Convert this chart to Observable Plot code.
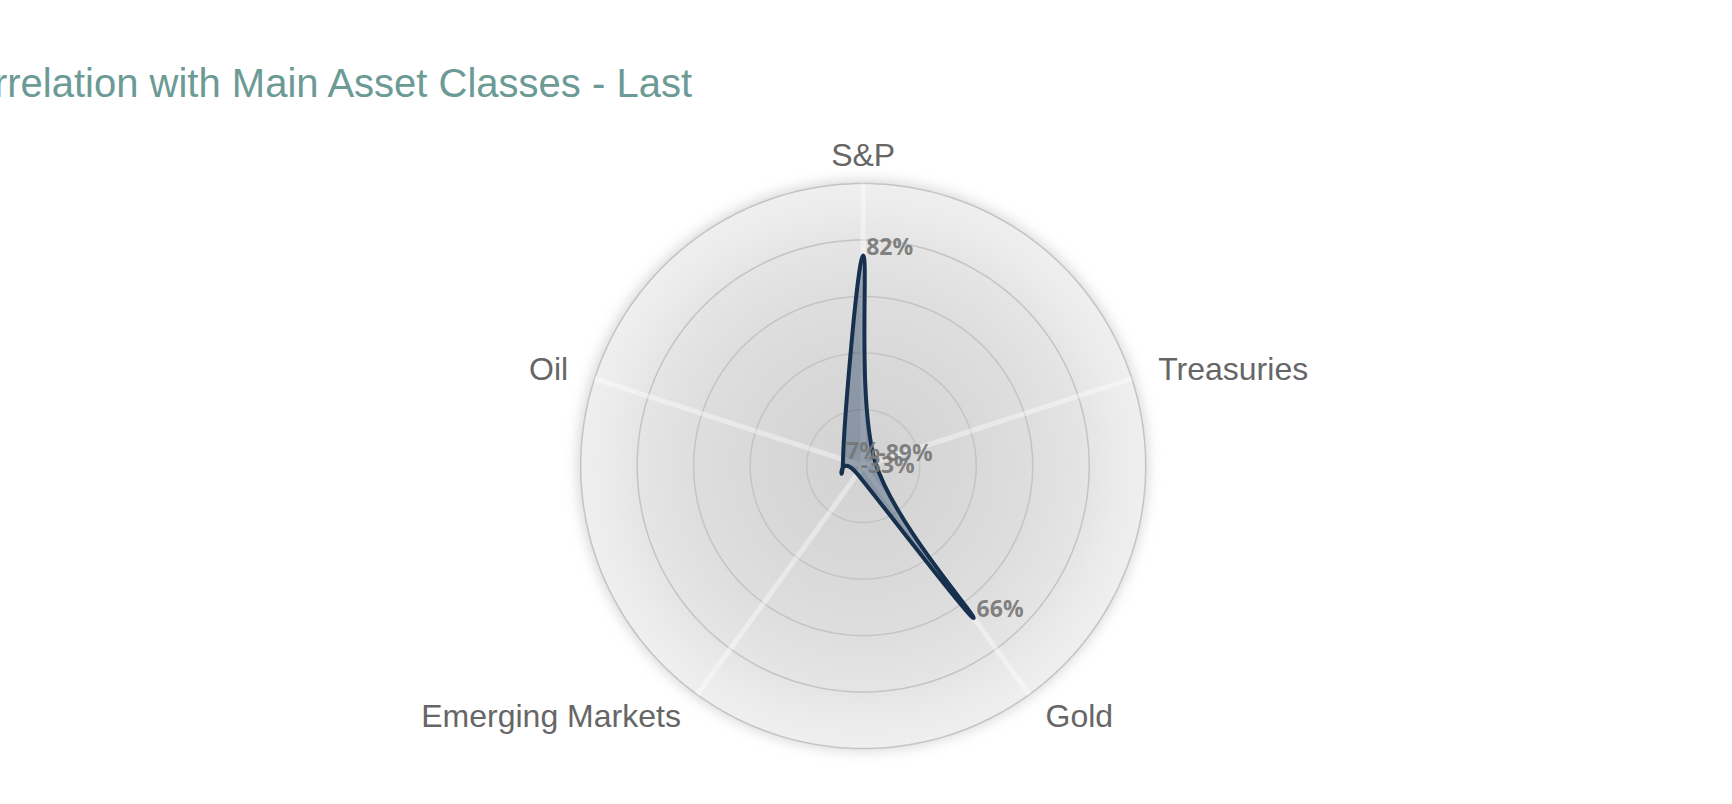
<!DOCTYPE html>
<html><head><meta charset="utf-8">
<script src="https://cdn.jsdelivr.net/npm/d3@7"></script>
<script src="https://cdn.jsdelivr.net/npm/@observablehq/plot@0.6"></script>
<style>
html,body{margin:0;padding:0;background:#fff;overflow:hidden;}
#wrap{position:relative;width:1732px;height:804px;overflow:hidden;}
#title{position:absolute;top:63px;right:1040px;white-space:nowrap;font-family:"Liberation Sans Narrow","Liberation Sans",sans-serif;font-size:40px;line-height:40px;color:#6c9a95;}
#chart{position:absolute;top:110px;left:0;}
</style></head><body>
<div id="wrap"><div id="title">Correlation with Main Asset Classes - Last</div><div id="chart"></div></div>
<script>
// ---- data ----
const categories = ["S&P", "Treasuries", "Gold", "Emerging Markets", "Oil"];
const correlations = [0.82, -0.89, 0.66, -0.33, 0.07];      // value labels
const plottedRadius = [0.745, 0.045, 0.665, 0.035, 0.075]; // radius of the drawn shape
const ringTicks = [0.2, 0.4, 0.6, 0.8, 1.0];
const labelSide = ["middle", "start", "start", "end", "end"];

const n = categories.length;
const angle = i => i * 2 * Math.PI / n;
const series = categories.map((c, i) => ({
  cat: c, value: correlations[i],
  x: plottedRadius[i] * Math.sin(angle(i)),
  y: plottedRadius[i] * Math.cos(angle(i))
}));
const ringPts = [];
for (const t of ringTicks) for (let k = 0; k < 240; k++) {
  const a = k * 2 * Math.PI / 240;
  ringPts.push({ring: t, x: t * Math.sin(a), y: t * Math.cos(a)});
}
const spokes = categories.map((c, i) => ({x1: 0, y1: 0, x2: Math.sin(angle(i)), y2: Math.cos(angle(i))}));
const labelR = 1.098;
const catLabels = categories.map((c, i) => ({cat: c, side: labelSide[i], x: labelR * Math.sin(angle(i)), y: labelR * Math.cos(angle(i))}));
const pct = v => Math.round(v * 100) + "%";

const catStyle = {fontFamily: "Liberation Sans, Arial, sans-serif", fontSize: 32, fill: "#666"};

const chart = Plot.plot({
  width: 1732, height: 694,
  marginLeft: 580.2, marginRight: 586.8, marginTop: 73, marginBottom: 56,
  x: {domain: [-1, 1], axis: null},
  y: {domain: [-1, 1], axis: null},
  style: {background: "transparent", overflow: "visible"},
  marks: [
    Plot.line(ringPts.filter(d => d.ring === 1), {x: "x", y: "y", curve: "linear-closed", fill: "url(#bgGrad)", stroke: "none"}),
    Plot.line(ringPts, {x: "x", y: "y", z: "ring", curve: "linear-closed", fill: "none", stroke: "#c4c4c4", strokeWidth: 1.5}),
    Plot.link(spokes, {x1: "x1", y1: "y1", x2: "x2", y2: "y2", stroke: "#ffffff", strokeOpacity: 0.4, strokeWidth: 5}),
    Plot.line(series, {x: "x", y: "y", curve: "cardinal-closed", fill: "#1d3a5c", fillOpacity: 0.4, stroke: "#17304d", strokeWidth: 4, strokeLinejoin: "round"}),
    Plot.text(series, {x: "x", y: "y", text: d => pct(d.value), textAnchor: "start", dx: 3, dy: -8, fontFamily: "Open Sans", fontWeight: "bold", fontSize: 23, fill: "#777", fillOpacity: 0.92}),
    Plot.text(catLabels.filter(d => d.side === "middle"), {x: "x", y: "y", text: "cat", textAnchor: "middle", ...catStyle}),
    Plot.text(catLabels.filter(d => d.side === "start"), {x: "x", y: "y", text: "cat", textAnchor: "start", ...catStyle}),
    Plot.text(catLabels.filter(d => d.side === "end"), {x: "x", y: "y", text: "cat", textAnchor: "end", ...catStyle})
  ]
});

// gradient + soft shadow behind the disk, positioned with the plot's own scales
const sx = chart.scale("x"), sy = chart.scale("y");
const cx = sx.apply(0), cy = sy.apply(0), R = sx.apply(1) - cx;
const svgSel = d3.select(chart);
const defs = svgSel.insert("defs", ":first-child");
const g = defs.append("radialGradient").attr("id", "bgGrad").attr("cx", "50%").attr("cy", "50%").attr("r", "50%");
[[0, "#d2d2d2"], [0.35, "#d8d8d8"], [0.6, "#dedede"], [0.8, "#e5e5e5"], [0.9, "#ebebeb"], [1, "#efefef"]]
  .forEach(([o, c]) => g.append("stop").attr("offset", o).attr("stop-color", c));
defs.append("filter").attr("id", "soft").attr("x", "-20%").attr("y", "-20%").attr("width", "140%").attr("height", "140%")
  .append("feGaussianBlur").attr("stdDeviation", 7);
const shadow = document.createElementNS("http://www.w3.org/2000/svg", "circle");
shadow.setAttribute("cx", cx); shadow.setAttribute("cy", cy); shadow.setAttribute("r", R + 2);
shadow.setAttribute("fill", "#d4d4d4"); shadow.setAttribute("filter", "url(#soft)");
chart.insertBefore(shadow, defs.node().nextSibling);

document.getElementById("chart").appendChild(chart);
</script>
</body></html>
